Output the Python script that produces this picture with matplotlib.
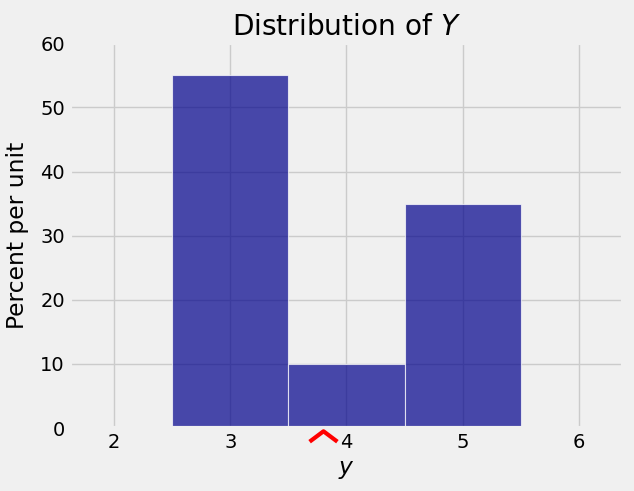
import matplotlib
matplotlib.use("Agg")
import matplotlib.pyplot as plt
from matplotlib.path import Path

plt.style.use("fivethirtyeight")

y_values = [3, 4, 5]
percent_per_unit = [55, 10, 35]
mean_y = 3.8
xticks = [2, 3, 4, 5, 6]
yticks = [0, 10, 20, 30, 40, 50, 60]

fig = plt.figure(figsize=(6.34, 4.91), dpi=100)
fig.patch.set_facecolor("#f0f0f0")
ax = fig.add_axes([0.110, 0.128, 0.873, 0.784])

ax.bar(y_values, percent_per_unit, width=1.0, align="center",
       color="darkblue", alpha=0.7, edgecolor="white", linewidth=0.8)

chevron = Path([(-1, -0.95), (0, -0.2), (1, -0.95)],
               [Path.MOVETO, Path.LINETO, Path.LINETO])
ax.plot([mean_y], [0], marker=chevron, markersize=20, markerfacecolor="none",
        markeredgecolor="red", markeredgewidth=3, linestyle="none",
        clip_on=False, zorder=5)

ax.set_xlim(1.62, 6.38)
ax.set_ylim(0, 60)
ax.set_xticks(xticks)
ax.set_yticks(yticks)
ax.set_title("Distribution of $Y$")
ax.set_xlabel("$y$")
ax.set_ylabel("Percent per unit", labelpad=8)

fig.savefig("out.png", dpi=100, facecolor=fig.get_facecolor())
